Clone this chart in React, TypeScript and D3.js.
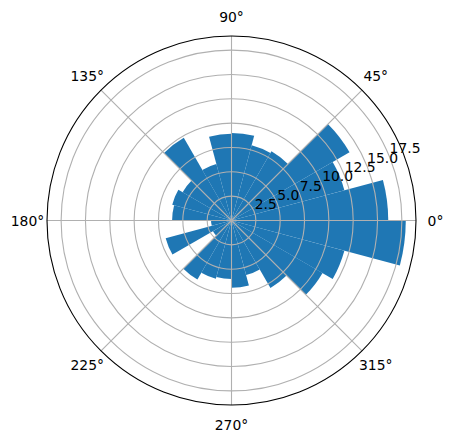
import React from "react";
import * as d3 from "d3";

const binStartDeg = [0, 15, 30, 45, 60, 75, 90, 105, 120, 135, 150, 165, 180, 195, 210, 225, 240, 255, 270, 285, 300, 315, 330, 345];
const binWidthDeg = 15;
const counts = [16.1, 12.0, 14.0, 8.2, 8.0, 9.0, 8.9, 6.0, 9.8, 5.8, 6.3, 6.1, 2.1, 7.0, 2.2, 7.0, 6.2, 6.0, 6.9, 5.8, 8.0, 10.8, 12.0, 17.9];
const rTicks = [2.5, 5.0, 7.5, 10.0, 12.5, 15.0, 17.5];
const rTickLabels = ["2.5", "5.0", "7.5", "10.0", "12.5", "15.0", "17.5"];
const thetaTicks = [0, 45, 90, 135, 180, 225, 270, 315];
const thetaTickLabels = ["0°", "45°", "90°", "135°", "180°", "225°", "270°", "315°"];
const rMax = 18.95;

const W = 453;
const H = 442;
const cx = 231.5;
const cy = 220.5;
const R = 184.5;
const rLabelDeg = 22.5;
const thetaLabelR = 204;
const font = "DejaVu Sans, sans-serif";

export default function App() {
  const r = d3.scaleLinear().domain([0, rMax]).range([0, R]);
  const rad = (deg: number) => (deg * Math.PI) / 180;
  const arc = d3.arc<any>();
  const px = (deg: number, rr: number) => cx + rr * Math.cos(rad(deg));
  const py = (deg: number, rr: number) => cy - rr * Math.sin(rad(deg));

  return (
    <svg width={W} height={H} style={{ position: "absolute", left: 0, top: 0, background: "#fff" }}>
      <g transform={`translate(${cx},${cy})`}>
        {counts.map((v, i) => {
          const t1 = rad(binStartDeg[i]);
          const t2 = rad(binStartDeg[i] + binWidthDeg);
          const d = arc({
            innerRadius: 0,
            outerRadius: r(v),
            startAngle: Math.PI / 2 - t2,
            endAngle: Math.PI / 2 - t1,
          });
          return <path key={i} d={d || ""} fill="#1f77b4" />;
        })}
        {rTicks.map((t, i) => (
          <circle key={"c" + i} r={r(t)} fill="none" stroke="#b0b0b0" strokeWidth={1.1} />
        ))}
        {thetaTicks.map((t, i) => (
          <line
            key={"l" + i}
            x1={0}
            y1={0}
            x2={R * Math.cos(rad(t))}
            y2={-R * Math.sin(rad(t))}
            stroke="#b0b0b0"
            strokeWidth={1.1}
          />
        ))}
        <circle r={R} fill="none" stroke="#000" strokeWidth={1.1} />
      </g>
      {rTicks.map((t, i) => (
        <text
          key={"rt" + i}
          x={px(rLabelDeg, r(t)) + 0.7}
          y={py(rLabelDeg, r(t)) - 2}
          fontFamily={font}
          fontSize={13.9}
          fill="#000"
          textAnchor="start"
        >
          {rTickLabels[i]}
        </text>
      ))}
      {thetaTicks.map((t, i) => (
        <text
          key={"tt" + i}
          x={px(t, thetaLabelR)}
          y={py(t, thetaLabelR)}
          fontFamily={font}
          fontSize={13.9}
          fill="#000"
          textAnchor="middle"
          dominantBaseline="central"
        >
          {thetaTickLabels[i]}
        </text>
      ))}
    </svg>
  );
}
